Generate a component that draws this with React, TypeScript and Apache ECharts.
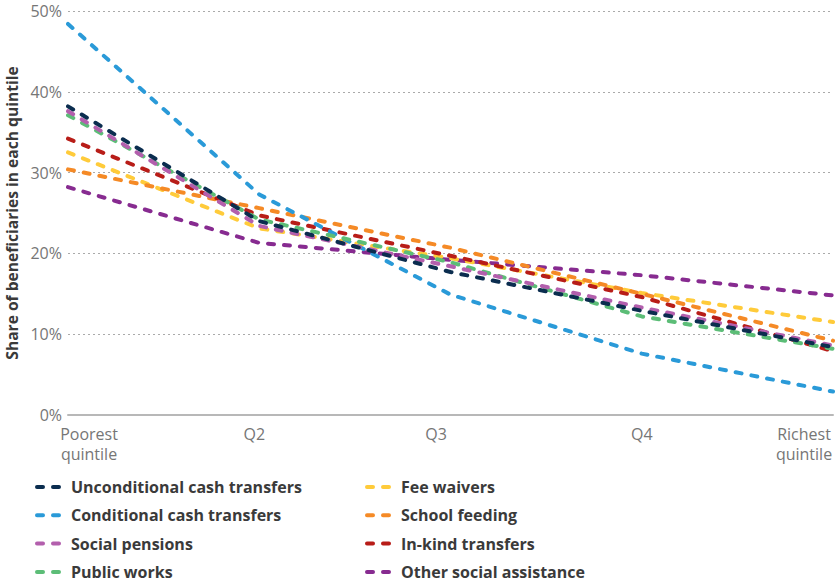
import React, { useEffect, useRef } from "react";
import * as echarts from "echarts";

const quintiles = ["Poorest\nquintile", "Q2", "Q3", "Q4", "Richest\nquintile"];
const yTicks = [0, 10, 20, 30, 40, 50];

const unconditional = [38.2, 24.0, 17.7, 12.9, 8.4];
const conditional = [48.4, 27.3, 14.9, 7.6, 2.9];
const socialPensions = [37.6, 23.4, 18.4, 13.3, 8.6];
const publicWorks = [37.1, 24.2, 18.9, 12.2, 8.2];
const feeWaivers = [32.5, 23.1, 19.4, 15.1, 11.5];
const schoolFeeding = [30.4, 25.6, 20.7, 15.0, 9.2];
const inKind = [34.2, 24.7, 19.7, 14.6, 7.9];
const otherSocial = [28.2, 21.3, 19.2, 17.3, 14.8];

const seriesDefs = [
  { name: "Other social assistance", data: otherSocial, color: "#872b90" },
  { name: "Fee waivers", data: feeWaivers, color: "#ffcb3a" },
  { name: "School feeding", data: schoolFeeding, color: "#f58a26" },
  { name: "In-kind transfers", data: inKind, color: "#b81d18" },
  { name: "Conditional cash transfers", data: conditional, color: "#2a9ad8" },
  { name: "Public works", data: publicWorks, color: "#5cbd77" },
  { name: "Social pensions", data: socialPensions, color: "#b35fad" },
  { name: "Unconditional cash transfers", data: unconditional, color: "#0b2d4f" },
];

const legendLeft = ["Unconditional cash transfers", "Conditional cash transfers", "Social pensions", "Public works"];
const legendRight = ["Fee waivers", "School feeding", "In-kind transfers", "Other social assistance"];

const FONT = "'Open Sans', 'Noto Sans', sans-serif";
const LABEL_COLOR = "#767676";

// horizontal label padding [left, right] per category to nudge labels like the reference
const labelPads: number[][] = [[42, 0], [0, 10], [0, 29], [0, 0], [0, 58]];

export default function App() {
  const ref = useRef<HTMLDivElement>(null);
  useEffect(() => {
    document.body.style.margin = "0";
    const chart = echarts.init(ref.current!, null, { renderer: "svg" });
    const legendCommon = {
      orient: "vertical" as const,
      padding: 0,
      itemWidth: 26,
      itemHeight: 14,
      itemGap: 12.3,
      itemStyle: { opacity: 0 },
      lineStyle: { width: 4, type: [6, 10], cap: "round" },
      textStyle: { fontFamily: FONT, fontSize: 16, fontWeight: "bold" as const, color: "#3a3a3a", padding: [0, 0, 0, 3] },
      selectedMode: false,
    };
    chart.setOption({
      animation: false,
      textStyle: { fontFamily: FONT },
      grid: { left: 68, right: 2, top: 11, height: 404, containLabel: false, outerBoundsMode: "none" },
      xAxis: {
        type: "category",
        data: quintiles.map((q, i) => ({
          value: q,
          textStyle: { padding: [0, labelPads[i][1], 0, labelPads[i][0]] },
        })),
        boundaryGap: false,
        axisLine: { lineStyle: { color: "#b8b8b8", width: 2 } },
        axisTick: { show: false },
        axisLabel: {
          color: LABEL_COLOR,
          fontSize: 16,
          fontFamily: FONT,
          lineHeight: 20,
          margin: 9,
          interval: 0,
          hideOverlap: false,
        },
      },
      yAxis: {
        type: "value",
        min: yTicks[0],
        max: yTicks[yTicks.length - 1],
        interval: 10,
        name: "Share of beneficiaries in each quintile",
        nameLocation: "middle",
        nameGap: 45,
        nameTextStyle: { fontFamily: FONT, fontSize: 15.6, fontWeight: "bold", color: "#3a3a3a" },
        axisLine: { show: false },
        axisTick: { show: false },
        axisLabel: { color: LABEL_COLOR, fontSize: 16, fontFamily: FONT, margin: 6, formatter: "{value}%" },
        splitLine: { lineStyle: { color: "#aaa", type: [2, 3], width: 1 } },
      },
      legend: [
        { ...legendCommon, data: legendLeft, left: 35, top: 479 },
        { ...legendCommon, data: legendRight, left: 365, top: 479 },
      ],
      series: seriesDefs.map((s) => ({
        type: "line",
        name: s.name,
        data: s.data,
        symbol: "none",
        color: s.color,
        lineStyle: { color: s.color, width: 4, type: [6, 10], cap: "round" },
        itemStyle: { color: s.color },
      })),
    });
    return () => chart.dispose();
  }, []);
  return <div ref={ref} style={{ width: 835, height: 583 }} />;
}
